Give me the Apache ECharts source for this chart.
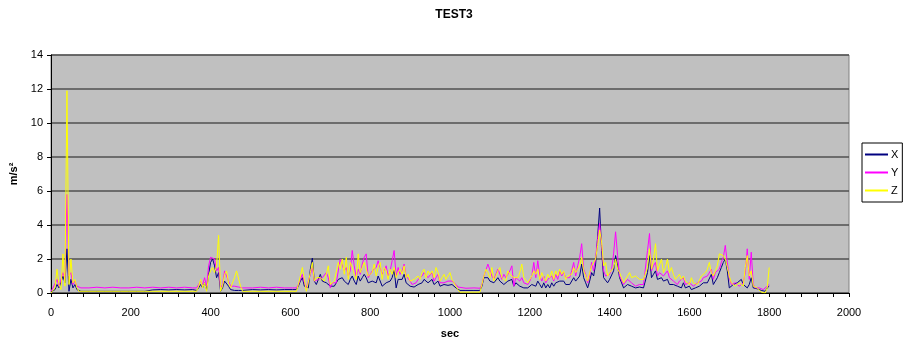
<!DOCTYPE html>
<html>
<head>
<meta charset="utf-8">
<script src="https://cdn.jsdelivr.net/npm/echarts@6/dist/echarts.min.js"></script>
<style>html,body{margin:0;padding:0;background:#fff;}#c{width:908px;height:344px;}</style>
</head>
<body>
<div id="c"></div>
<script>
// sample times (sec)
const TIME = [
  0,5,10,15,20,25,30,35,40,45,50,55,60,65,70,75,
  95,115,135,155,175,195,215,235,255,275,295,315,335,355,
  365,370,375,380,385,390,395,400,405,410,415,420,425,430,435,440,445,450,455,460,465,470,475,480,485,
  505,525,545,565,585,605,
  615,620,625,630,635,640,645,650,655,660,665,670,675,680,685,690,695,700,705,710,715,720,725,730,735,740,745,750,755,760,765,770,775,780,785,790,795,800,805,810,815,820,825,830,835,840,845,850,855,860,865,870,875,880,885,890,895,900,905,910,915,920,925,930,935,940,945,950,955,960,965,970,975,980,985,990,995,1000,1005,1010,1015,1020,1025,
  1040,1060,1075,
  1080,1085,1090,1095,1100,1105,1110,1115,1120,1125,1130,1135,1140,1145,1150,1155,1160,1165,1170,1175,1180,1185,1190,1195,1200,1205,1210,1215,1220,1225,1230,1235,1240,1245,1250,1255,1260,1265,1270,1275,1280,1285,1290,1295,1300,1305,1310,1315,1320,1325,1330,1335,1340,1345,1350,1355,1360,1365,1370,1375,1380,1385,1390,1395,1400,1405,1410,1415,1420,1425,1430,1435,1440,1445,1450,1455,1460,1465,1470,1475,1480,1485,1490,1495,1500,1505,1510,1515,1520,1525,1530,1535,1540,1545,1550,1555,1560,1565,1570,1575,1580,1585,1590,1595,1600,1605,1610,1615,1620,1625,1630,1635,1640,1645,1650,1655,1660,1665,1670,1675,1680,1685,1690,1695,1700,1705,1710,1715,1720,1725,1730,1735,1740,1745,1750,1755,1760,1765,1770,1775,1780,1785,1790,1795,1800
];
const X = [
  0.05,0.1,0.2,0.5,0.3,0.4,1.0,0.6,2.6,0.1,0.8,0.3,0.5,0.2,0.1,0.1,
  0.1,0.1,0.1,0.1,0.1,0.1,0.1,0.1,0.18,0.2,0.18,0.2,0.18,0.2,
  0.15,0.3,0.5,0.3,0.6,0.2,1.1,1.8,2.0,1.6,0.9,1.2,0.1,0.3,0.7,0.6,0.4,0.2,0.1,0.15,0.2,0.15,0.1,0.15,0.15,
  0.2,0.18,0.2,0.18,0.2,0.2,
  0.2,0.4,0.7,0.9,0.4,0.3,0.3,1.4,2.05,0.7,0.5,0.6,1.1,0.7,0.6,0.6,0.7,0.4,0.5,0.4,0.5,0.8,0.9,0.9,0.7,0.8,0.5,0.8,1.0,0.7,0.5,1.0,0.7,0.9,1.1,0.9,0.6,0.5,0.7,0.8,0.6,1.0,1.1,0.4,0.3,0.6,0.5,0.7,0.9,1.4,0.3,0.8,0.7,0.8,1.1,0.6,0.7,0.4,0.3,0.35,0.4,0.5,0.5,0.6,0.8,0.7,0.6,0.5,0.8,0.5,0.6,0.7,0.4,0.5,0.5,0.4,0.45,0.5,0.5,0.4,0.3,0.2,0.15,
  0.15,0.15,0.15,
  0.4,0.9,0.8,0.9,0.7,0.8,0.6,0.6,0.9,0.7,0.6,0.5,0.6,0.7,0.6,0.8,0.4,0.6,0.5,0.4,0.5,0.3,0.3,0.3,0.4,0.5,0.6,0.4,0.7,0.5,0.3,0.6,0.3,0.5,0.3,0.6,0.4,0.6,0.5,0.7,0.6,0.7,0.5,0.6,0.5,0.6,0.9,0.7,0.8,1.0,1.7,0.9,0.6,0.3,0.7,1.2,1.0,1.7,3.3,5.0,2.5,0.9,0.8,0.6,0.8,0.9,1.3,2.2,1.6,0.9,0.6,0.3,0.2,0.5,0.6,0.4,0.3,0.3,0.3,0.35,0.3,0.3,0.2,1.2,2.2,0.9,1.1,1.3,0.8,0.8,0.9,0.7,0.6,0.8,0.5,0.6,0.5,0.4,0.4,0.5,0.3,0.6,0.3,0.2,0.4,0.2,0.3,0.3,0.4,0.4,0.5,0.6,0.5,0.6,0.7,1.1,0.5,0.6,0.9,1.2,1.5,1.8,2.0,1.3,0.3,0.3,0.5,0.5,0.6,0.7,0.8,0.5,0.4,0.3,0.5,0.9,0.3,0.2,0.25,0.2,0.15,0.1,0.1,0.3,0.4
];
const Y = [
  0.1,0.3,0.4,0.8,0.4,0.5,1.2,0.8,5.8,1.0,1.2,0.5,0.7,0.4,0.3,0.3,
  0.3,0.34,0.3,0.34,0.3,0.3,0.34,0.3,0.34,0.3,0.34,0.3,0.34,0.3,
  0.3,0.5,0.7,0.5,0.9,0.4,1.6,2.1,2.2,2.0,1.3,1.5,0.3,0.5,1.3,1.0,0.7,0.4,0.3,0.4,0.4,0.35,0.3,0.3,0.3,
  0.3,0.34,0.3,0.34,0.3,0.3,
  0.3,0.5,0.8,1.1,0.6,0.3,0.2,1.1,1.5,0.7,0.7,0.8,0.9,0.9,0.8,1.2,0.9,0.3,0.6,0.5,0.6,1.3,2.0,1.9,1.3,1.5,1.0,1.3,2.5,1.6,0.9,1.4,1.1,1.7,2.1,2.3,0.9,0.8,1.3,1.4,1.5,1.9,2.0,1.1,1.2,1.6,1.0,1.3,1.9,2.5,1.0,1.5,1.1,1.3,1.7,1.0,1.1,0.7,0.5,0.6,0.6,0.8,0.7,1.0,1.2,1.3,0.9,0.8,1.2,0.7,0.9,1.1,0.6,0.7,0.6,0.6,0.7,0.6,0.7,0.6,0.5,0.35,0.3,
  0.28,0.3,0.28,
  0.5,1.0,1.1,1.7,1.6,1.0,0.8,0.8,1.4,1.1,0.8,1.1,0.9,0.8,1.3,1.6,0.4,0.9,0.8,0.7,0.9,0.6,0.6,0.5,0.7,1.0,1.8,0.9,1.9,1.0,0.7,1.0,0.6,0.8,0.7,1.0,0.7,1.1,0.8,1.3,1.0,1.2,0.9,0.8,0.9,1.3,1.8,1.0,1.6,2.1,2.9,1.4,1.1,0.6,1.0,1.8,1.3,2.1,3.2,4.1,2.8,1.3,1.0,0.9,1.1,1.4,2.3,3.6,2.2,1.0,1.1,0.5,0.4,0.8,0.9,0.6,0.5,0.4,0.5,0.5,0.4,0.5,0.4,2.5,3.5,1.3,1.6,1.8,1.0,1.2,1.3,1.0,1.1,1.3,0.9,1.0,0.7,0.6,0.5,0.7,0.6,0.9,0.5,0.4,0.6,0.5,0.4,0.5,0.6,0.5,0.7,0.9,0.8,1.0,0.9,1.4,0.8,1.2,1.1,1.4,1.8,2.1,2.8,1.8,0.9,0.5,0.4,0.6,0.5,0.4,0.5,0.6,1.2,2.6,0.8,2.4,0.5,0.3,0.3,0.3,0.2,0.2,0.25,0.4,0.5
];
const Z = [
  0.0,0.1,0.3,1.4,0.5,0.2,2.3,0.4,11.9,0.5,2.0,0.6,0.8,0.3,0.1,0.1,
  0.1,0.1,0.1,0.1,0.1,0.1,0.1,0.1,0.1,0.1,0.1,0.1,0.1,0.1,
  0.1,0.4,0.8,0.3,0.6,0.1,1.0,1.3,1.5,1.2,1.6,3.4,0.1,0.4,1.1,1.3,0.6,0.3,0.2,0.9,1.3,1.2,0.4,0.1,0.1,
  0.1,0.1,0.1,0.1,0.1,0.1,
  0.1,0.5,1.0,1.5,0.8,0.1,0.0,1.2,1.8,0.7,0.9,0.9,0.9,1.0,0.7,1.1,1.6,0.5,0.6,0.7,0.6,1.8,1.4,2.0,1.1,2.1,0.8,1.8,1.5,1.1,0.8,2.3,1.2,1.5,1.8,1.4,1.0,1.1,1.2,1.7,1.0,1.5,1.8,0.8,1.5,1.3,0.8,1.4,1.1,1.5,0.9,1.2,1.4,1.1,1.6,0.9,1.1,0.7,0.6,0.8,0.7,1.0,0.8,1.2,1.4,0.9,1.3,1.1,1.3,0.9,1.5,1.2,0.7,0.9,1.1,0.8,1.0,1.2,0.8,0.6,0.4,0.2,0.05,
  0.05,0.05,0.05,
  0.5,1.0,1.4,1.2,0.9,1.5,0.7,1.0,1.3,1.5,0.9,1.0,0.7,1.3,1.1,1.2,0.9,1.0,0.9,1.2,1.7,0.9,0.8,0.6,0.8,1.0,1.3,1.1,1.4,0.8,1.2,0.9,0.7,1.1,0.9,1.3,0.8,1.3,1.0,1.4,1.1,1.3,0.8,1.0,0.9,1.1,1.5,1.2,1.4,1.6,2.1,1.3,1.0,0.7,1.2,1.6,1.5,2.0,2.8,3.7,3.0,1.6,1.8,1.0,1.2,1.1,1.5,2.0,1.4,1.2,0.9,0.6,0.7,1.0,1.2,0.9,0.8,1.0,0.9,0.8,0.9,0.8,0.7,1.5,2.6,1.4,2.0,2.9,1.3,1.4,2.0,1.2,1.5,2.0,1.2,1.5,1.1,0.8,0.9,1.1,0.8,1.0,0.7,0.6,0.5,0.9,0.6,0.7,0.5,0.6,1.0,1.1,1.2,1.4,1.8,1.2,1.0,1.3,1.6,2.3,2.4,2.2,2.0,1.5,1.0,0.6,0.5,0.4,0.5,0.6,0.5,0.4,1.5,2.2,1.0,1.3,0.4,0.3,0.3,0.2,0.05,0.0,0.0,0.3,1.5
];
const SERIES_NAMES = ['X', 'Y', 'Z'];
const SERIES_COLORS = ['#000080', '#FF00FF', '#FFFF00'];
const Y_TICKS = [0, 2, 4, 6, 8, 10, 12, 14];
const X_LABEL_STEP = 200;

const pair = (vals) => TIME.map((t, i) => [t, vals[i]]);
const FONT = 'Liberation Sans, Arial, sans-serif';

const chart = echarts.init(document.getElementById('c'), null, {renderer: 'canvas'});
chart.setOption({
  animation: false,
  backgroundColor: '#ffffff',
  title: {
    text: 'TEST3', left: 'center', top: 4,
    textStyle: {fontFamily: FONT, fontSize: 12, fontWeight: 'bold', color: '#000'}
  },
  legend: {
    orient: 'vertical', left: 862, top: 143,
    data: SERIES_NAMES,
    icon: 'rect', itemWidth: 23, itemHeight: 2, itemGap: 7,
    backgroundColor: '#fff', borderColor: '#000', borderWidth: 1,
    padding: [6, 4, 6, 3],
    textStyle: {fontFamily: FONT, fontSize: 11, color: '#000', padding: [0, 0, 0, -2]}
  },
  grid: {
    left: 49, right: 59, top: 55, bottom: 46,
    show: true, backgroundColor: '#C0C0C0', borderColor: '#808080', borderWidth: 1
  },
  xAxis: {
    type: 'value', min: 0, max: 2000, interval: 40,
    name: 'sec', nameLocation: 'middle', nameGap: 35,
    nameTextStyle: {fontFamily: FONT, fontSize: 11, fontWeight: 'bold', color: '#000'},
    axisLine: {show: true, onZero: false, lineStyle: {color: '#000', width: 1}},
    axisTick: {show: true, length: 4, lineStyle: {color: '#000'}},
    splitLine: {show: false},
    axisLabel: {
      fontFamily: FONT, fontSize: 11, color: '#000', margin: 14,
      formatter: (v) => (v % X_LABEL_STEP === 0 ? String(v) : '')
    }
  },
  yAxis: {
    type: 'value', min: Y_TICKS[0], max: Y_TICKS[Y_TICKS.length - 1], interval: Y_TICKS[1] - Y_TICKS[0],
    name: 'm/s²', nameLocation: 'middle', nameGap: 32, nameRotate: 90,
    nameTextStyle: {fontFamily: FONT, fontSize: 11, fontWeight: 'bold', color: '#000'},
    axisLine: {show: true, lineStyle: {color: '#000', width: 1}},
    axisTick: {show: true, length: 4, lineStyle: {color: '#000'}},
    splitLine: {show: true, lineStyle: {color: '#505050', width: 1.5}},
    axisLabel: {fontFamily: FONT, fontSize: 11, color: '#000', margin: 8}
  },
  series: [X, Y, Z].map((vals, i) => ({
    name: SERIES_NAMES[i], type: 'line', data: pair(vals),
    showSymbol: false, symbol: 'none',
    lineStyle: {color: SERIES_COLORS[i], width: 1},
    itemStyle: {color: SERIES_COLORS[i]},
    z: 2 + i
  }))
});
</script>
</body>
</html>
